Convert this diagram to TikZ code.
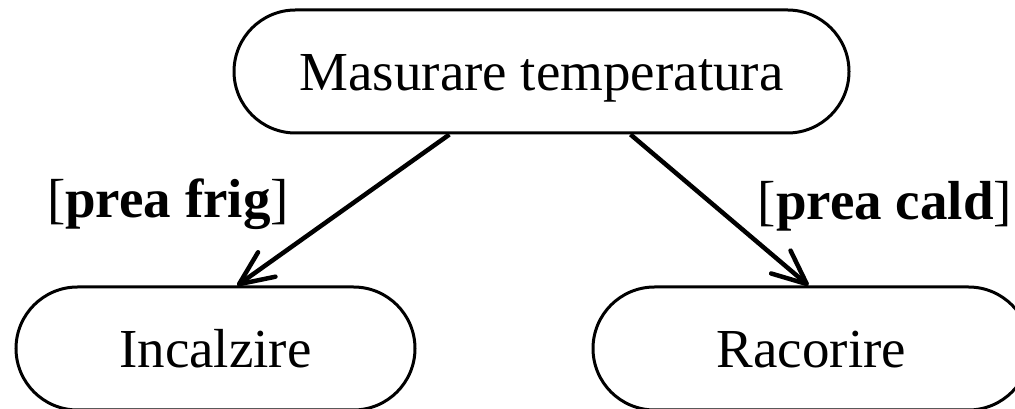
\documentclass[tikz,border=0pt]{standalone}
\usepackage{fontspec}
\setmainfont{Liberation Serif}
\usetikzlibrary{positioning,arrows.meta,calc}
\tikzset{
    >={Straight Barb[length=34pt,width=30pt,round]},
    state/.style={
        rectangle,
        rounded corners=61.5pt,
        draw,
        line width=3pt,
        inner sep=0pt,
        minimum height=123pt,
        text height=39pt,
        text depth=0pt
    },
    guard/.style={
        anchor=base,
        inner sep=0pt
    }
}

\begin{document}
\begin{tikzpicture}[
    x=1pt, y=1pt,
    font=\fontsize{55}{66}\selectfont
]
\useasboundingbox (0,0) rectangle (1015,409);

% Activities
\node[state, minimum width=615pt] (measure) at (541.5,337.5)
{Masurare temperatura};

\node[state, minimum width=399pt] (heat) at (215.5,60.5)
{Incalzire};

\node[state, minimum width=437pt] (cool) at (811.5,60.5)
{Racorire};

% Guards
\node[guard] (frig) at (168,191) {[\textbf{prea frig}]};
\node[guard] (cald) at (885,189) {[\textbf{prea cald}]};

% Transitions
\draw[->, line width=4.5pt]
    ($(measure.south west)!0.351!(measure.south east)$)
    -- ($(heat.north west)!0.554!(heat.north east)$);

\draw[->, line width=4.5pt]
    ($(measure.south west)!0.644!(measure.south east)$)
    -- ($(cool.north)+(-3,0)$);

\end{tikzpicture}
\end{document}
